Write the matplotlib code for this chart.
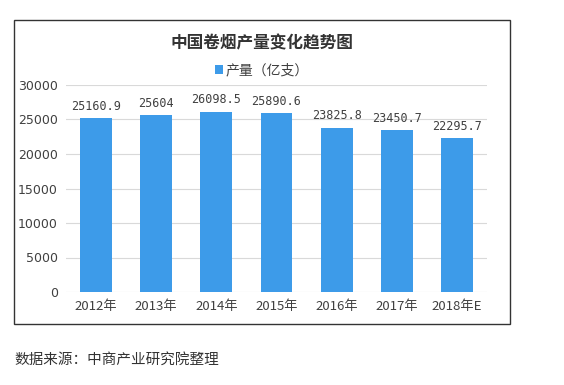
import matplotlib
matplotlib.use("Agg")
import matplotlib.pyplot as plt
from matplotlib.patches import Rectangle

plt.rcParams['font.family'] = ['Noto Sans CJK SC', 'DejaVu Sans']

years = ["2012年", "2013年", "2014年", "2015年", "2016年", "2017年", "2018年E"]
values = [25160.9, 25604, 26098.5, 25890.6, 23825.8, 23450.7, 22295.7]
labels = ["25160.9", "25604", "26098.5", "25890.6", "23825.8", "23450.7", "22295.7"]
yticks = [0, 5000, 10000, 15000, 20000, 25000, 30000]

fig = plt.figure(figsize=(5.64, 3.85), dpi=100)
fig.patch.set_facecolor('white')

# chart border
fig.patches.append(Rectangle((14/564, 1-324/385), (510-14)/564, (324-20)/385,
                             transform=fig.transFigure, fill=False,
                             edgecolor='#333333', linewidth=1.0))

ax = fig.add_axes([66/564, 1-292/385, (487-66)/564, (292-85)/385])
x = range(len(years))
bars = ax.bar(x, values, width=0.53, color='#3d9be9', label='产量（亿支）', zorder=3)
ax.set_ylim(0, 30000)
ax.set_xlim(-0.5, len(years)-0.5)
ax.set_yticks(yticks)
ax.set_yticklabels([str(v) for v in yticks], fontsize=9, color='#404040', family='DejaVu Sans')
ax.set_xticks(list(x))
ax.set_xticklabels(years, fontsize=9.5, color='#404040')
ax.tick_params(length=0, pad=6)
ax.grid(axis='y', color='#d9d9d9', linewidth=0.8, zorder=0)
for s in ax.spines.values():
    s.set_visible(False)

for xi, v, lab in zip(x, values, labels):
    ax.annotate(lab, (xi, v), xytext=(0, 4), textcoords='offset points',
                ha='center', va='bottom', fontsize=8.5, color='#404040',
                family='DejaVu Sans Mono')

fig.text(262/564, 1-43/385, '中国卷烟产量变化趋势图', ha='center', va='center',
         fontsize=12, fontweight='bold', color='#333333')
leg = fig.legend(handles=[bars], labels=['产量（亿支）'], loc='center',
                 bbox_to_anchor=(262/564, 1-70/385), frameon=False, fontsize=10,
                 handlelength=0.6, handleheight=0.6, handletextpad=0.2)
for t in leg.get_texts():
    t.set_color('#404040')

fig.text(14/564, 1-360/385, '数据来源：中商产业研究院整理', ha='left', va='center',
         fontsize=10.5, color='#333333')

fig.savefig('out.png', dpi=100)
